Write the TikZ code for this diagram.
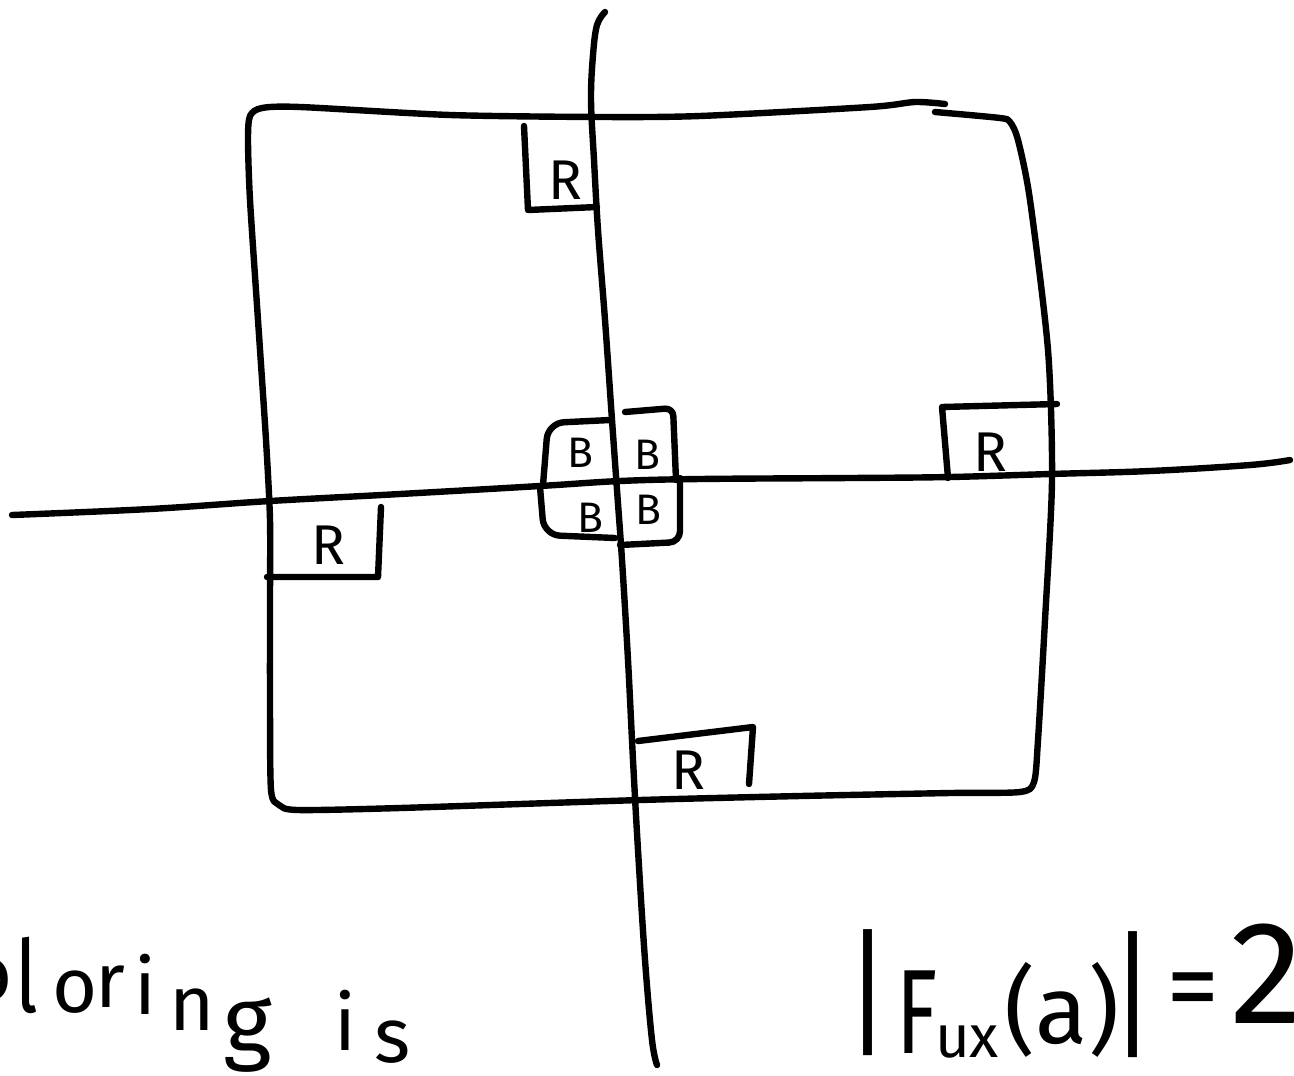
\documentclass[tikz,border=0pt]{standalone}
\usepackage{fontspec}
\usepackage{graphicx}
\setmainfont{Fira Sans}
\newcommand\hwsz[1]{\fontsize{#1}{#1}\selectfont}
\tikzset{
  ink/.style={line width=4.8pt, line cap=round, line join=round},
  lab/.style={inner sep=0pt, anchor=center},
  rlab/.style={lab, font=\hwsz{42pt}},
  blab/.style={lab, font=\hwsz{32pt}},
  hw/.style={inner sep=0pt, anchor=base}
}
\begin{document}
\begin{tikzpicture}[x=0.75pt,y=-0.75pt]
\useasboundingbox (0,0) rectangle (1294,1075);
\clip (0,0) rectangle (1294,1075);
% vertical line
\draw[ink] plot[smooth, tension=0.6] coordinates {(605,12) (597,25) (593,55) (591,100) (594,160) (598,230) (605,320) (612,420) (617,490) (622,560) (628,660) (633,760) (638,850) (645,960) (652,1040) (657,1065)};
% horizontal line
\draw[ink] plot[smooth, tension=0.6] coordinates {(12,515) (150,509) (270,501) (400,494) (540,486) (620,481) (700,479) (850,478) (950,477) (1050,474) (1150,471) (1250,465) (1290,460)};
% square
\draw[ink] plot[smooth, tension=0.45] coordinates {(945,104) (915,102) (870,107) (700,116) (600,117) (450,115) (300,107) (262,108) (250,116) (248,140) (250,200) (258,320) (266,440) (270,520) (270,600) (270,700) (271,790) (279,805) (298,810) (400,808) (640,800) (800,796) (950,793) (1020,792) (1034,782) (1038,740) (1045,620) (1052,480) (1048,350) (1030,200) (1018,140) (1010,122) (1000,118) (935,112)};
% R boxes
\draw[ink] (524,126) -- (528,210) -- (597,207);
\node[rlab] (r1) at (565,180) {R};
\draw[ink] (948,478) -- (942,407) -- (1057,404);
\node[rlab] (r2) at (990,452) {R};
\draw[ink] (267,577) -- (378,577) -- (381,507);
\node[rlab] (r3) at (328,545) {R};
\draw[ink] (638,741) -- (753,727) -- (749,784);
\node[rlab] (r4) at (688,770) {R};
% B boxes
\draw[ink, rounded corners=12pt] (610,420) -- (548,423) -- (543,485);
\draw[ink, rounded corners=6pt] (625,412) -- (673,408) -- (676,480);
\draw[ink, rounded corners=12pt] (540,487) -- (544,535) -- (615,538);
\draw[ink, rounded corners=8pt] (680,478) -- (680,542) -- (620,545);
\node[blab] (b1) at (580,453) {B};
\node[blab] (b2) at (647,455) {B};
\node[blab] (b3) at (590,518) {B};
\node[blab] (b4) at (648,510) {B};
% left text
\begin{scope}[every node/.style={hw, font=\hwsz{58pt}}]
\node (t0) at (-10,1000) {o};
\node (t1) at (27,1012) {\scalebox{1}[1.3]{l}};
\node (t2) at (75,1012) {o};
\node (t3) at (110,1007) {r};
\node (t4) at (145,1014) {i};
\node (t5) at (192,1030) {n};
\node[font=\hwsz{70pt}] (t6) at (248,1052) {g};
\node (t7) at (345,1050) {i};
\node (t8) at (393,1062) {s};
\end{scope}
% right text
\node[lab, font=\hwsz{80pt}] (u1) at (868,993) {\scalebox{1}[1.3]{|}};
\node[hw, font=\hwsz{90pt}] (u2) at (917,1053) {\scalebox{0.7}[1]{F}};
\node[hw, font=\hwsz{45pt}] (u3) at (967,1057) {ux};
\node[lab, font=\hwsz{72pt}] (u4) at (1062,1010) {(a)};
\node[lab, font=\hwsz{80pt}] (u5) at (1133,995) {\scalebox{1}[1.3]{|}};
\node[lab, font=\hwsz{80pt}] (u6) at (1193,998) {=};
\node[inner sep=0pt, anchor=base west, font=\hwsz{110pt}] (u7) at (1230,1023) {2};
\end{tikzpicture}
\end{document}
